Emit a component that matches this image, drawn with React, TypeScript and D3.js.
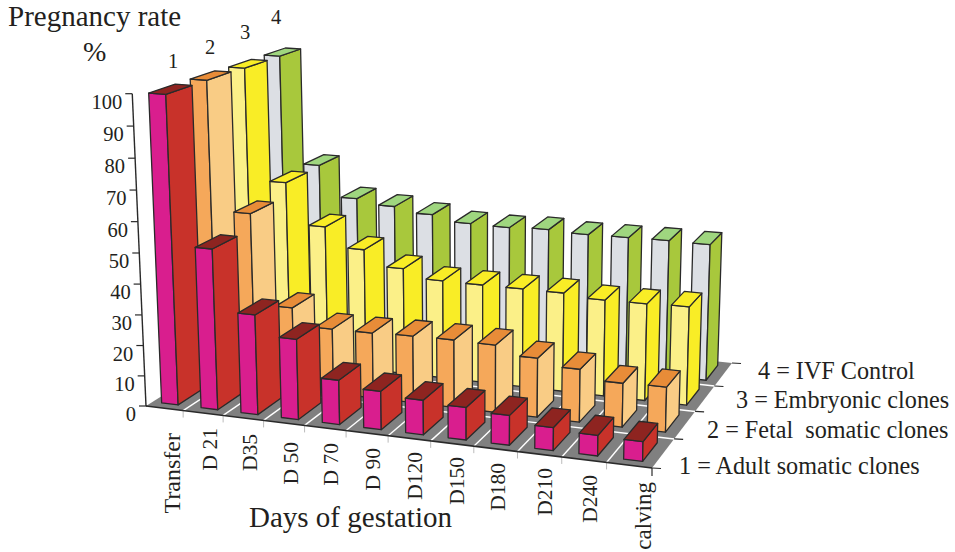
import React from "react";
import * as d3 from "d3";

// ---- data ----
const categories = ["Transfer","D 21","D35","D 50","D 70","D 90","D120","D150","D180","D210","D240","calving"];
const seriesNames = ["Adult","Fetal","Embryonic","IVF"];
const adultSomatic = [99.7,52.3,32.5,26.1,14.4,12.4,11.1,10.4,9.5,7.3,6.5,6.2];
const fetalSomatic = [99.7,57.4,27.4,21.7,21.8,22.2,22.4,22.2,19.4,17.3,14.3,14.6];
const embryonic = [99.4,61.9,48.0,41.4,36.2,33.4,33.3,33.3,33.3,32.3,32.4,32.8];
const ivfControl = [99.4,62.3,51.7,50.1,48.4,46.5,46.3,46.8,46.3,46.5,46.7,46.6];
const seriesValues = [adultSomatic,fetalSomatic,embryonic,ivfControl];
const yTicks = [0,10,20,30,40,50,60,70,80,90,100];

// ---- text layout ----
const labelX = [180,217,257,298,338,380,422,464,505,552,597,651];
const labelTop = [433,428,434,442,443,448,452,457,463,468,475,482];
const labelSize = [24,21.5,21.5,21.5,21.5,21.5,21.5,21.5,21.5,21.5,21.5,23];
const legend = [["4 = IVF Control",758,379],["3 = Embryonic clones",736,408],["2 = Fetal  somatic clones",707,438],["1 = Adult somatic clones",679,474]] as const;
const rowNums = [["1",173,68],["2",210,54],["3",245,39],["4",276,24]] as const;

// ---- perspective: floor corners (front-left, front-right, back-right, back-left) and vertical vanishing point ----
const A = [146,406], B = [652,468], C = [732,363], D = [289,316], V = [480,8000];
const sx = A[0]-B[0]+C[0]-D[0], sy = A[1]-B[1]+C[1]-D[1];
const dx1 = B[0]-C[0], dy1 = B[1]-C[1], dx2 = D[0]-C[0], dy2 = D[1]-C[1];
const det = dx1*dy2-dx2*dy1;
const g = (sx*dy2-dx2*sy)/det, h = (dx1*sy-sx*dy1)/det;
const hom = (u:number,v:number) => [
  (B[0]-A[0]+g*B[0])*u+(D[0]-A[0]+h*D[0])*v+A[0],
  (B[1]-A[1]+g*B[1])*u+(D[1]-A[1]+h*D[1])*v+A[1],
  g*u+h*v+1,
];
const zs = d3.scaleLinear().domain([0,100]).range([0,0.0395]);
const P = (u:number,v:number,z:number):[number,number] => {
  const [x,y,w] = hom(u,v); const c = zs(z);
  return [(x-c*V[0])/(w-c),(y-c*V[1])/(w-c)];
};
const U = d3.scaleBand<string>().domain(categories).range([-0.005,1.0]).paddingInner(0.58).paddingOuter(0.29);
const W = d3.scaleBand<string>().domain(seriesNames).range([0,1]).paddingInner(0.37).paddingOuter(0.16);
const line = d3.line();
const cols = [["#D91E8E","#C8322A","#8E2420"],["#F5A85A","#F9CC85","#E88C38"],["#FBF088","#F9ED26","#F9ED26"],["#DCDFE4","#A8C83C","#9FD67F"]];
const ink = "#2a2a2a";

export default function App(){
  const bars:any[] = [];
  for(let j=3;j>=0;j--) for(let i=0;i<categories.length;i++){
    const u0=U(categories[i])!, u1=u0+U.bandwidth(), v0=W(seriesNames[j])!, v1=v0+W.bandwidth(), z=seriesValues[j][i];
    const f=[P(u0,v0,0),P(u1,v0,0),P(u1,v0,z),P(u0,v0,z)];
    const r=[P(u1,v0,0),P(u1,v1,0),P(u1,v1,z),P(u1,v0,z)];
    const t=[P(u0,v0,z),P(u1,v0,z),P(u1,v1,z),P(u0,v1,z)];
    [f,r,t].forEach((q,k)=>bars.push(<path key={`${j}-${i}-${k}`} d={line(q)+"Z"} fill={cols[j][k]} stroke={ink} strokeWidth={1.3} strokeLinejoin="round"/>));
  }
  const colEdges = d3.range(13).map(i=>i===0?0:i===12?1:U(categories[i])!-U.paddingInner()*U.step()/2);
  const rowEdges = d3.range(5).map(j=>j===0?0:j===4?1:W(seriesNames[j])!-W.paddingInner()*W.step()/2);
  const corner = P(1,0,0);
  return <svg width={955} height={552} style={{position:"absolute",left:0,top:0,background:"#fff"}} fontFamily="Liberation Serif" fill="#231f20">
    <path d={line([P(0,0,0),P(1,0,0),P(1,1,0),P(0,1,0)])+"Z"} fill="#808080"/>
    {colEdges.slice(1,12).map((e,i)=><path key={"c"+i} d={line([P(e,0,0),P(e,1,0)])!} stroke="#fff" strokeWidth={1.4}/>)}
    {rowEdges.slice(1,4).map((e,i)=><path key={"r"+i} d={line([P(0,e,0),P(1,e,0)])!} stroke="#fff" strokeWidth={1.4}/>)}
    {colEdges.slice(1,12).map((e,i)=>{const p=P(e,0,0);return <path key={"ct"+i} d={line([p,[p[0],p[1]+7]])!} stroke="#bbb" strokeWidth={1}/>;})}
    {rowEdges.map((e,i)=>{const p=P(1,e,0);return <path key={"rt"+i} d={line([p,[p[0]+9,p[1]+0.5]])!} stroke={ink} strokeWidth={1.2}/>;})}
    <path d={line([corner,[corner[0],corner[1]+8]])!} stroke={ink} strokeWidth={1.2}/>
    <path d={line([P(0,0,0),P(1,0,0)])!} stroke={ink} strokeWidth={1.6}/>
    {bars}
    <path d={line([P(0,0,0),P(0,0,100)])!} stroke={ink} strokeWidth={1.4}/>
    {yTicks.map(t=>{const p=P(0,0,t);return <g key={t}>
      <path d={line([[p[0]-7,p[1]],[p[0]+(t===0?1:0),p[1]]])!} stroke={ink} strokeWidth={1.2}/>
      <text x={p[0]-10} y={p[1]+15} fontSize={20.5} textAnchor="end">{t}</text></g>;})}
    {categories.map((c,i)=><text key={c} transform={`translate(${labelX[i]},${labelTop[i]}) rotate(-90)`} textAnchor="end" fontSize={labelSize[i]}>{c}</text>)}
    <text x={8} y={26} fontSize={29}>Pregnancy rate</text>
    <text x={83} y={61} fontSize={28}>%</text>
    {rowNums.map(([s,x,y])=><text key={s} x={x} y={y} fontSize={20.5} textAnchor="middle">{s}</text>)}
    <text x={249} y={527} fontSize={29}>Days of gestation</text>
    {legend.map(([s,x,y])=><text key={s} x={x} y={y} fontSize={24.2} style={{whiteSpace:"pre"}}>{s}</text>)}
  </svg>;
}
